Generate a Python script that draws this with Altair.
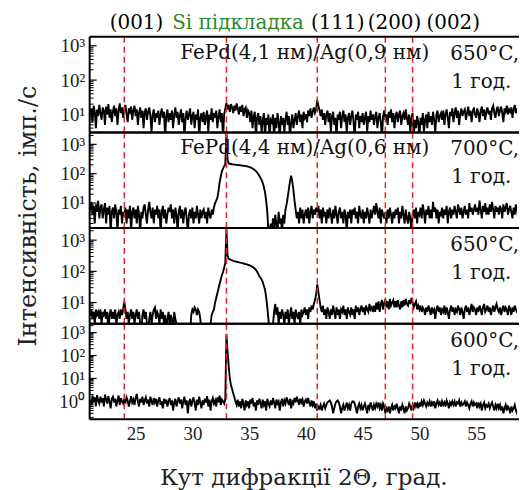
import altair as alt
import pandas as pd

# ---- data (2Θ grid and intensities) ----
two_theta_start = 21.0
two_theta_step = 0.1
n_points = 380

counts_41_650 = [
    10, 15, 6, 18, 12, 4, 14, 9, 19, 11,
    7, 16, 13, 5, 17, 10, 20, 8, 14, 6,
    12, 18, 9, 15, 5, 13, 21, 11, 16, 8,
    14, 19, 10, 6, 15, 12, 17, 7, 13, 18,
    9, 14, 5, 11, 16, 8, 13, 4, 12, 15,
    7, 12, 16, 9, 3, 10, 14, 6, 11, 8,
    13, 5, 10, 15, 8, 12, 2, 9, 14, 6,
    11, 7, 13, 4, 10, 16, 8, 12, 5, 9,
    14, 6, 11, 2, 8, 13, 7, 10, 15, 5,
    9, 12, 4, 10, 7, 14, 2, 8, 11, 6,
    12, 5, 9, 13, 3, 10, 7, 15, 6, 11,
    8, 13, 4, 9, 14, 6, 11, 2, 10, 15,
    22, 14, 19, 12, 20, 16, 11, 18, 13, 21,
    15, 10, 17, 12, 19, 9, 14, 16, 8, 13,
    11, 6, 13, 4, 9, 12, 2, 8, 11, 5,
    9, 3, 7, 11, 2, 8, 5, 10, 2, 7,
    6, 10, 2, 8, 4, 11, 6, 2, 9, 5,
    8, 3, 7, 12, 5, 9, 2, 6, 10, 4,
    7, 11, 5, 9, 13, 6, 10, 4, 12, 8,
    10, 6, 13, 9, 15, 8, 12, 16, 11, 14,
    26, 18, 13, 9, 14, 7, 11, 5, 10, 13,
    6, 11, 3, 9, 12, 5, 8, 2, 10, 7,
    12, 4, 9, 13, 6, 10, 3, 8, 11, 5,
    9, 13, 6, 2, 10, 7, 12, 4, 9, 6,
    11, 5, 8, 12, 3, 9, 6, 13, 7, 10,
    5, 9, 12, 4, 8, 11, 6, 2, 9, 13,
    7, 10, 5, 12, 8, 14, 6, 11, 4, 9,
    12, 6, 10, 13, 5, 9, 11, 7, 14, 8,
    5, 10, 3, 8, 11, 2, 7, 4, 9, 6,
    2, 8, 5, 11, 3, 7, 10, 4, 12, 6,
    9, 5, 12, 7, 3, 10, 13, 6, 9, 11,
    7, 13, 5, 10, 14, 8, 4, 12, 9, 15,
    6, 11, 16, 8, 13, 5, 10, 15, 9, 12,
    14, 7, 11, 17, 9, 13, 6, 12, 16, 10,
    8, 15, 11, 6, 13, 17, 9, 14, 7, 12,
    16, 10, 13, 7, 15, 18, 11, 8, 14, 17,
    9, 13, 17, 11, 6, 15, 12, 18, 10, 14,
    12, 16, 8, 14, 19, 11, 15, 9, 13, 17,
]
counts_44_700 = [
    6, 11, 4, 8, 2, 9, 5, 12, 3, 7,
    9, 3, 6, 10, 2, 7, 4, 8, 1, 5,
    7, 3, 9, 5, 1, 6, 4, 8, 2, 5,
    4, 7, 2, 6, 3, 8, 1, 5, 7, 3,
    6, 2, 8, 4, 1, 5, 3, 7, 9, 4,
    2, 6, 11, 5, 3, 7, 2, 6, 4, 8,
    3, 6, 1, 5, 8, 3, 6, 2, 4, 7,
    5, 9, 3, 6, 2, 7, 4, 1, 5, 8,
    3, 6, 2, 5, 7, 3, 1, 4, 6, 3,
    7, 2, 5, 3, 8, 4, 2, 6, 3, 5,
    6, 3, 5, 2, 7, 4, 3, 6, 4, 7,
    10, 12, 15, 25, 50, 80, 120, 150, 180, 210,
    2500, 300, 222, 218, 214, 210, 207, 204, 201, 199,
    197, 195, 193, 191, 189, 187, 185, 182, 179, 175,
    170, 165, 158, 150, 141, 132, 122, 110, 98, 85,
    72, 60, 48, 35, 23, 12, 5, 1, 1, 2,
    1, 3, 1, 4, 2, 1, 5, 2, 3, 1,
    4, 2, 6, 9, 16, 30, 55, 85, 55, 28,
    12, 6, 3, 5, 2, 7, 3, 6, 2, 4,
    6, 3, 7, 2, 5, 8, 3, 6, 4, 7,
    5, 8, 3, 6, 2, 7, 4, 5, 2, 6,
    3, 7, 4, 2, 6, 3, 8, 4, 2, 5,
    7, 3, 5, 2, 6, 4, 1, 5, 3, 6,
    2, 6, 4, 7, 3, 5, 2, 8, 4, 3,
    6, 2, 5, 3, 7, 4, 2, 6, 3, 5,
    8, 4, 10, 5, 3, 7, 2, 6, 4, 3,
    5, 2, 6, 3, 7, 4, 2, 5, 3, 6,
    4, 7, 2, 5, 3, 8, 4, 2, 6, 3,
    2, 5, 3, 1, 4, 6, 3, 7, 2, 5,
    4, 7, 3, 9, 5, 2, 6, 4, 8, 3,
    6, 3, 11, 5, 7, 3, 6, 2, 5, 4,
    7, 3, 6, 4, 8, 2, 5, 7, 3, 6,
    4, 8, 5, 3, 9, 6, 4, 7, 3, 5,
    8, 4, 6, 3, 10, 5, 7, 4, 6, 9,
    5, 7, 4, 12, 6, 3, 8, 5, 10, 4,
    7, 4, 9, 5, 11, 6, 3, 8, 5, 7,
    4, 8, 6, 3, 9, 5, 7, 10, 4, 6,
    8, 5, 3, 7, 4, 9, 6, 3, 8, 5,
]
counts_44_650 = [
    4, 6, 3, 5, 2, 6, 4, 5, 3, 6,
    2, 5, 4, 6, 3, 5, 1, 4, 6, 3,
    5, 3, 6, 2, 4, 5, 3, 6, 4, 6,
    11, 6, 3, 5, 2, 4, 6, 3, 5, 2,
    4, 6, 3, 5, 2, 1, 4, 6, 3, 5,
    2, 1, 3, 5, 2, 4, 6, 7, 3, 5,
    4, 2, 6, 3, 5, 2, 4, 1, 3, 5,
    2, 4, 3, 1, 5, 3, 2, 1, 1, 1,
    1, 1, 1, 1, 1, 1, 1, 1, 1, 4,
    6, 5, 7, 6, 4, 6, 5, 3, 1, 1,
    1, 1, 1, 1, 1, 1, 2, 4, 5, 6,
    10, 14, 20, 28, 40, 55, 75, 95, 130, 190,
    2400, 320, 250, 240, 232, 225, 218, 212, 207, 203,
    199, 195, 191, 187, 183, 179, 175, 171, 167, 162,
    157, 152, 146, 139, 131, 122, 111, 98, 84, 70,
    62, 55, 45, 34, 26, 15, 7, 3, 1, 1,
    1, 2, 5, 9, 4, 7, 2, 5, 3, 6,
    4, 2, 5, 3, 6, 2, 4, 7, 3, 5,
    2, 6, 4, 3, 5, 2, 6, 4, 5, 7,
    4, 6, 3, 7, 5, 8, 6, 9, 12, 18,
    38, 22, 12, 7, 5, 8, 4, 6, 3, 7,
    5, 3, 6, 4, 8, 5, 3, 7, 4, 6,
    3, 6, 5, 8, 4, 6, 3, 7, 5, 4,
    7, 4, 6, 3, 8, 5, 7, 4, 6, 8,
    5, 7, 4, 8, 6, 5, 9, 6, 7, 5,
    8, 5, 10, 6, 11, 5, 9, 12, 6, 10,
    12, 7, 11, 6, 13, 8, 10, 12, 7, 11,
    7, 12, 8, 6, 11, 7, 12, 8, 13, 9,
    8, 12, 9, 14, 10, 7, 9, 11, 6, 8,
    6, 8, 5, 7, 6, 4, 7, 5, 8, 6,
    4, 7, 5, 6, 3, 6, 8, 5, 7, 4,
    6, 5, 8, 4, 7, 5, 3, 6, 8, 5,
    7, 4, 6, 5, 8, 6, 4, 7, 5, 3,
    6, 8, 5, 7, 4, 6, 9, 5, 7, 6,
    4, 7, 5, 8, 6, 4, 7, 9, 5, 6,
    8, 5, 7, 4, 6, 8, 5, 7, 9, 6,
    5, 7, 4, 6, 8, 5, 7, 6, 4, 8,
    6, 4, 7, 5, 8, 6, 5, 7, 6, 8,
]
counts_44_600 = [
    1.2, 0.7, 1.8, 1.0, 1.5, 0.6, 1.9, 1.1, 0.8, 1.6,
    0.9, 1.4, 0.6, 2.0, 1.2, 0.8, 1.7, 1.0, 0.5, 1.3,
    1.6, 0.9, 1.3, 0.6, 1.1, 1.8, 0.7, 1.4, 1.0, 0.8,
    1.3, 0.8, 1.5, 1.1, 0.6, 1.0, 1.7, 0.9, 1.2, 0.7,
    1.4, 2.1, 1.0, 0.6, 1.3, 0.9, 1.6, 0.7, 1.1, 1.5,
    0.8, 1.2, 0.6, 1.6, 1.0, 0.7, 1.4, 0.9, 1.3, 0.6,
    1.1, 1.5, 0.7, 1.0, 0.5, 1.3, 0.8, 1.2, 0.6, 1.0,
    1.4, 0.7, 1.1, 0.4, 0.9, 1.3, 0.6, 1.0, 1.5, 0.8,
    1.2, 0.5, 1.0, 1.6, 0.7, 1.1, 0.3, 0.9, 1.3, 0.6,
    1.0, 1.5, 0.8, 0.4, 1.2, 0.7, 1.6, 0.9, 0.5, 1.1,
    0.7, 1.3, 0.9, 1.7, 0.6, 1.2, 0.4, 1.0, 1.4, 0.8,
    1.1, 0.6, 1.5, 0.9, 1.8, 0.7, 1.2, 1.0, 0.8, 1.3,
    850, 150, 35, 10, 5, 3.5, 2.2, 1.5, 1.0, 0.7,
    1.2, 0.6, 1.0, 0.5, 1.3, 0.8, 0.4, 1.1, 0.7, 1.0,
    0.5, 1.2, 0.8, 1.4, 0.6, 0.9, 0.4, 1.1, 0.7, 1.3,
    0.9, 0.5, 1.2, 0.7, 1.0, 0.4, 1.3, 0.8, 0.6, 1.1,
    0.7, 1.4, 0.9, 0.5, 1.2, 0.8, 1.0, 0.4, 0.9, 1.3,
    0.6, 1.1, 0.8, 1.5, 1.0, 0.7, 1.3, 0.5, 1.0, 0.8,
    1.4, 0.9, 1.6, 1.1, 0.7, 1.3, 0.9, 1.2, 0.6, 1.0,
    1.2, 0.8, 1.4, 0.9, 0.6, 1.1, 0.7, 1.0, 0.5, 0.8,
    0.4, 0.6, 0.5, 0.7, 0.4, 0.6, 0.8, 0.5, 0.7, 0.9,
    1.0, 1.1, 0.9, 0.6, 0.3, 0.5, 0.8, 1.0, 1.1, 0.9,
    0.6, 0.3, 0.5, 0.7, 0.4, 0.6, 0.9, 0.5, 0.7, 0.4,
    0.8, 1.0, 1.0, 0.8, 0.5, 0.3, 0.6, 0.8, 0.5, 0.7,
    0.4, 0.6, 0.8, 0.5, 0.3, 0.7, 0.5, 0.9, 0.6, 0.4,
    0.7, 0.5, 0.8, 0.6, 0.9, 0.5, 0.7, 0.4, 0.8, 0.6,
    0.3, 0.5, 0.4, 0.6, 0.3, 0.5, 0.7, 0.4, 0.6, 0.5,
    0.8, 0.5, 0.3, 0.6, 0.4, 0.7, 0.5, 0.3, 0.6, 0.4,
    0.5, 0.8, 0.6, 0.4, 0.7, 0.5, 0.9, 0.6, 0.8, 0.5,
    0.9, 0.6, 1.0, 0.7, 1.1, 0.8, 0.6, 0.9, 0.7, 1.0,
    0.6, 0.9, 0.7, 1.0, 0.5, 0.8, 1.1, 0.7, 0.9, 0.6,
    1.0, 0.7, 0.9, 0.6, 1.1, 0.8, 0.5, 0.9, 0.7, 1.0,
    0.7, 1.0, 0.6, 0.9, 0.8, 1.1, 0.6, 0.9, 0.7, 0.8,
    1.0, 0.6, 0.9, 0.7, 0.5, 0.8, 1.0, 0.6, 0.9, 0.7,
    0.8, 0.5, 0.9, 0.6, 0.8, 0.4, 0.7, 0.9, 0.5, 0.7,
    0.6, 0.8, 0.5, 0.7, 0.9, 0.6, 0.4, 0.7, 0.5, 0.8,
    0.5, 0.7, 0.4, 0.6, 0.3, 0.5, 0.7, 0.4, 0.6, 0.5,
    0.3, 0.6, 0.4, 0.5, 0.7, 0.4, 0.3, 0.5, 0.6, 0.4,
]

ref_positions = [24.0, 33.0, 41.0, 47.0, 49.4]
header_labels = ["(001)", "Si підкладка", "(111)", "(200)", "(002)"]
header_colors = ["black", "#2b8a2b", "black", "black", "black"]
x_ticks = [25, 30, 35, 40, 45, 50, 55]

sample_labels = ["FePd(4,1 нм)/Ag(0,9 нм)", "FePd(4,4 нм)/Ag(0,6 нм)", "", ""]
temp_labels = ["650°C,", "700°C,", "650°C,", "600°C,"]
time_label = "1 год."
y_domains = [[3.0, 1820], [1.4, 2550], [2.1, 2440], [0.165, 2450]]
y_label_values = [[10, 100, 1000], [10, 100, 1000], [10, 100, 1000], [1, 10, 100, 1000]]

x_title = "Кут дифракції 2Θ, град."
y_title = "Інтенсивність, імп./с"

# ---- chart ----
two_theta = [round(two_theta_start + two_theta_step * i, 1) for i in range(n_points)]
X_DOMAIN = [20.95, 58.6]
W, H = 429, 96
SERIF = "DejaVu Serif"
TIMES = "Liberation Serif"

label_expr = ("datum.value == 1 ? '10⁰' : datum.value == 10 ? '10¹' : "
              "datum.value == 100 ? '10²' : '10³'")


def panel(i, counts):
    bottom = i == 3
    df = pd.DataFrame({"x": two_theta, "y": counts})
    xscale = alt.Scale(domain=X_DOMAIN, nice=False, zero=False)
    yscale = alt.Scale(type="log", domain=y_domains[i], nice=False)
    if bottom:
        xenc = alt.X("x:Q", scale=xscale, title=x_title,
                     axis=alt.Axis(values=x_ticks, ticks=False, domain=False, grid=False,
                                   labelFont=TIMES, labelFontSize=19, labelColor="#222",
                                   labelPadding=5, titleFont=SERIF, titleFontSize=23,
                                   titleFontWeight="normal", titleColor="#222",
                                   titlePadding=23))
    else:
        xenc = alt.X("x:Q", scale=xscale, axis=None)
    yenc = alt.Y("y:Q", scale=yscale, title=None,
                 axis=alt.Axis(values=y_label_values[i], labelExpr=label_expr,
                               ticks=False, domain=False, grid=False,
                               labelFont=TIMES, labelFontSize=19, labelColor="#222",
                               labelPadding=5))
    line = alt.Chart(df).mark_line(color="black", strokeWidth=1.9, clip=True,
                                   interpolate="linear").encode(x=xenc, y=yenc)

    rules = alt.Chart(pd.DataFrame({"x": ref_positions})).mark_rule(
        color="#e3262b", strokeDash=[6, 4], strokeWidth=1.5
    ).encode(x=alt.X("x:Q", scale=xscale))

    lo, hi = y_domains[i]
    majors = [v for v in [0.1, 1, 10, 100, 1000] if lo <= v <= hi]
    minors = [m * d for d in [0.1, 1, 10, 100, 1000] for m in range(2, 10)
              if lo <= m * d <= hi]
    tmaj = alt.Chart(pd.DataFrame({"t": majors})).mark_rule(
        color="black", strokeWidth=1.2).encode(
        y=alt.Y("t:Q", scale=yscale), x=alt.value(0), x2=alt.value(7))
    tmin = alt.Chart(pd.DataFrame({"t": minors})).mark_rule(
        color="black", strokeWidth=1).encode(
        y=alt.Y("t:Q", scale=yscale), x=alt.value(0), x2=alt.value(4))

    # frame: left, top and bottom edges (the right edge lies beyond the picture)
    frame_l = alt.Chart(pd.DataFrame({"k": [0]})).mark_rule(
        color="black", strokeWidth=2).encode(
        x=alt.value(0), y=alt.value(0), y2=alt.value(H))
    frame_t = alt.Chart(pd.DataFrame({"k": [0]})).mark_rule(
        color="black", strokeWidth=2).encode(
        y=alt.value(0), x=alt.value(0), x2=alt.value(W + 2))
    frame_b = alt.Chart(pd.DataFrame({"k": [0]})).mark_rule(
        color="black", strokeWidth=2).encode(
        y=alt.value(H), x=alt.value(0), x2=alt.value(W + 2))

    layers = [line, rules, tmaj, tmin, frame_l, frame_t, frame_b]

    txt = dict(font=SERIF, fontSize=20, color="#111", baseline="middle")
    if sample_labels[i]:
        layers.append(alt.Chart(pd.DataFrame({"s": [sample_labels[i]]})).mark_text(
            align="center", **txt).encode(text="s:N", x=alt.value(216), y=alt.value(16)))
    layers.append(alt.Chart(pd.DataFrame({"s": [temp_labels[i]]})).mark_text(
        align="left", **txt).encode(text="s:N", x=alt.value(362), y=alt.value(17)))
    layers.append(alt.Chart(pd.DataFrame({"s": [time_label]})).mark_text(
        align="left", **txt).encode(text="s:N", x=alt.value(363), y=alt.value(45)))

    if i == 0:
        hx = [47, 149, 249, 306, 365]
        for lab, col, px in zip(header_labels, header_colors, hx):
            layers.append(alt.Chart(pd.DataFrame({"s": [lab]})).mark_text(
                align="center", baseline="middle", font=SERIF, fontSize=20, color=col
            ).encode(text="s:N", x=alt.value(px), y=alt.value(-14)))
    if i == 1:
        layers.append(alt.Chart(pd.DataFrame({"s": [y_title]})).mark_text(
            align="center", baseline="middle", font=SERIF, fontSize=24, angle=270,
            color="#222"
        ).encode(text="s:N", x=alt.value(-61), y=alt.value(84)))

    return alt.layer(*layers).properties(width=W, height=H)


panels = [panel(i, c) for i, c in enumerate(
    [counts_41_650, counts_44_700, counts_44_650, counts_44_600])]

chart = alt.vconcat(*panels, spacing=0, bounds="flush").properties(
    padding={"left": 16, "top": 12, "right": 0, "bottom": 0},
    background="white",
).configure_view(stroke=None).resolve_scale(y="independent")

chart.save("out.html", embed_options={"renderer": "svg", "actions": False})
